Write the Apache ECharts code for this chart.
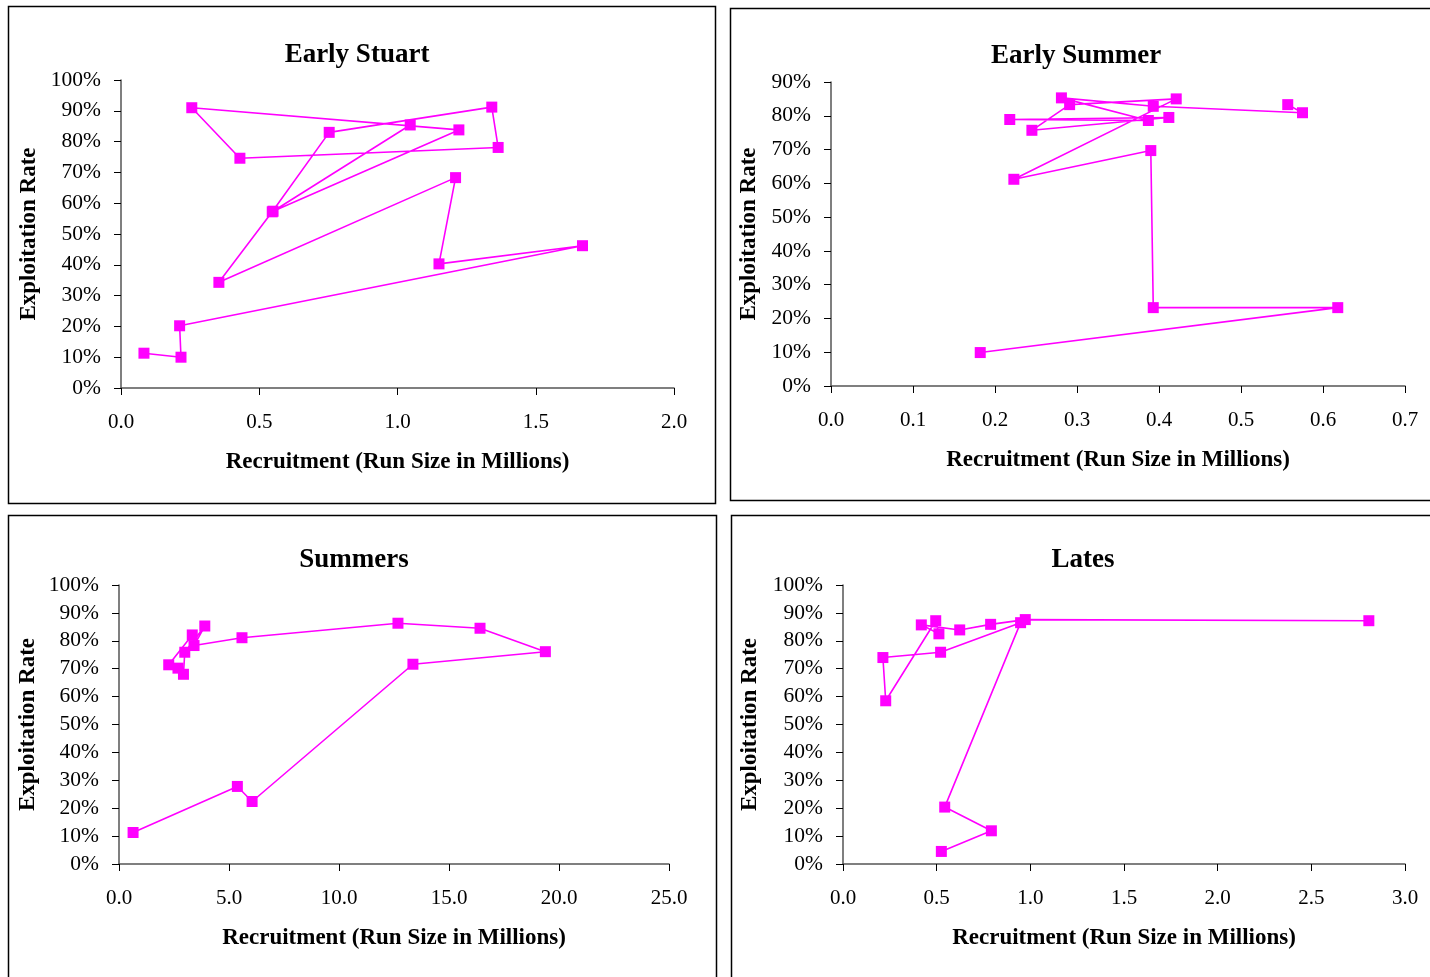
<!DOCTYPE html>
<html><head><meta charset="utf-8">
<script src="https://cdn.jsdelivr.net/npm/echarts@6/dist/echarts.min.js"></script>
<style>html,body{margin:0;padding:0;background:#fff}#c{width:1430px;height:977px}</style>
</head><body><div id="c"></div><script>
// ---- data ----
const panelTitles = ['Early Stuart', 'Early Summer', 'Summers', 'Lates'];
const xAxisTitle = 'Recruitment (Run Size in Millions)';
const yAxisTitle = 'Exploitation Rate';

// Early Stuart (run size millions, exploitation %)
const earlyStuartRun  = [0.083, 0.217, 0.212, 1.669, 1.150, 1.210, 0.354, 0.547, 0.753, 1.341, 1.364, 0.430, 0.256, 1.222, 0.550, 1.046];
const earlyStuartRate = [11.3, 10.0, 20.2, 46.2, 40.3, 68.3, 34.3, 57.2, 83.0, 91.2, 78.1, 74.6, 91.0, 83.8, 57.4, 85.4];

// Early Summer
const earlySummerRun  = [0.182, 0.618, 0.393, 0.390, 0.223, 0.421, 0.291, 0.245, 0.412, 0.218, 0.387, 0.281, 0.393, 0.575, 0.557];
const earlySummerRate = [9.9, 23.2, 23.2, 69.7, 61.2, 85.0, 83.3, 75.7, 79.5, 78.9, 78.6, 85.3, 82.8, 80.9, 83.3];

// Summers
const summersRun  = [0.64, 5.38, 6.05, 13.36, 19.38, 16.41, 12.68, 5.59, 3.41, 3.90, 2.99, 2.93, 2.68, 2.26, 3.33];
const summersRate = [11.3, 27.8, 22.4, 71.6, 76.1, 84.5, 86.3, 81.1, 78.3, 85.3, 75.9, 68.0, 70.2, 71.4, 82.1];

// Lates
const latesRun  = [0.525, 0.792, 0.543, 0.948, 0.521, 0.213, 0.228, 0.495, 0.512, 0.418, 0.623, 0.788, 0.973, 2.807];
const latesRate = [4.5, 11.9, 20.4, 86.5, 75.9, 74.0, 58.5, 87.2, 82.5, 85.7, 83.9, 85.9, 87.6, 87.2];

// axis ranges
const xMax = [2.0, 0.7, 25.0, 3.0];
const xStep = [0.5, 0.1, 5.0, 0.5];
const yMax = [100, 90, 100, 100];
const yStep = [10, 10, 10, 10];

// ---- layout ----
const grids = [
  {left: 121, top: 80, width: 553, height: 308},
  {left: 831, top: 82, width: 574, height: 304},
  {left: 119, top: 585, width: 550, height: 279},
  {left: 843, top: 585, width: 562, height: 279}
];
const yNameGap = [80, 70, 79, 81];
const frames = [
  {x: 8.5, y: 6.5, w: 707, h: 497},
  {x: 730.5, y: 8.5, w: 720, h: 492},
  {x: 8.5, y: 515.5, w: 708, h: 480},
  {x: 731.5, y: 515.5, w: 720, h: 480}
];
const titlePos = [[357, 55], [1076, 56], [354, 560], [1083, 560]];

const FONT = '"Liberation Serif", "Times New Roman", serif';
const MAG = '#FF00FF';

const series = [
  [earlyStuartRun, earlyStuartRate],
  [earlySummerRun, earlySummerRate],
  [summersRun, summersRate],
  [latesRun, latesRate]
];

const option = {
  backgroundColor: '#fff',
  animation: false,
  grid: grids.map(g => Object.assign({containLabel: false}, g)),
  xAxis: grids.map((g, i) => ({
    type: 'value', gridIndex: i, min: 0, max: xMax[i], interval: xStep[i],
    name: xAxisTitle, nameLocation: 'middle', nameGap: 63,
    nameTextStyle: {fontFamily: FONT, fontWeight: 'bold', fontSize: 23, color: '#000'},
    axisLine: {show: true, onZero: false, lineStyle: {color: '#555', width: 1.5}},
    axisTick: {show: true, inside: false, length: 7, lineStyle: {color: '#000', width: 1}},
    axisLabel: {margin: 24, fontFamily: FONT, fontSize: 21, color: '#000',
      formatter: v => v.toFixed(1)},
    splitLine: {show: false}
  })),
  yAxis: grids.map((g, i) => ({
    type: 'value', gridIndex: i, min: 0, max: yMax[i], interval: yStep[i],
    name: yAxisTitle, nameLocation: 'middle', nameGap: yNameGap[i], nameRotate: 90,
    nameTextStyle: {fontFamily: FONT, fontWeight: 'bold', fontSize: 23, color: '#000'},
    axisLine: {show: true, onZero: false, lineStyle: {color: '#555', width: 1.5}},
    axisTick: {show: true, inside: false, length: 7, lineStyle: {color: '#000', width: 1}},
    axisLabel: {margin: 20, fontFamily: FONT, fontSize: 21.5, color: '#000',
      formatter: v => v + '%'},
    splitLine: {show: false}
  })),
  series: series.map((s, i) => ({
    type: 'line', xAxisIndex: i, yAxisIndex: i,
    data: s[0].map((x, k) => [x, s[1][k]]),
    symbol: 'rect', symbolSize: 11,
    lineStyle: {color: MAG, width: 1.6},
    itemStyle: {color: MAG},
    z: 3
  })),
  graphic: [
    ...frames.map(f => ({
      type: 'rect', shape: {x: f.x, y: f.y, width: f.w, height: f.h},
      style: {fill: 'none', stroke: '#000', lineWidth: 1.5}, z: 0, silent: true
    })),
    ...titlePos.map((p, i) => ({
      type: 'text', x: p[0], y: p[1],
      style: {text: panelTitles[i], textAlign: 'center', textVerticalAlign: 'middle',
        font: 'bold 27px ' + FONT, fill: '#000'}, z: 5
    }))
  ]
};

const chart = echarts.init(document.getElementById('c'), null, {renderer: 'canvas'});
chart.setOption(option);
</script></body></html>
